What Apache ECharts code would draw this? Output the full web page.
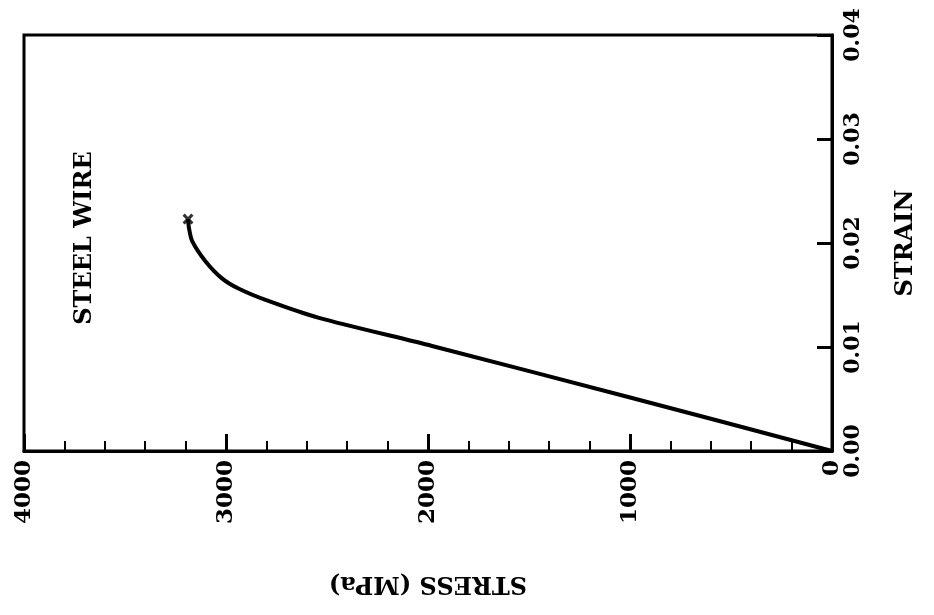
<!DOCTYPE html>
<html>
<head>
<meta charset="utf-8">
<title>Steel wire stress-strain</title>
<script src="https://cdn.jsdelivr.net/npm/echarts@6/dist/echarts.min.js"></script>
<style>
    html, body { margin: 0; padding: 0; background: #fff; }
    #chart { width: 934px; height: 615px; }
</style>
</head>
<body>
<div id="chart"></div>
<script>
    // stress (MPa) and strain
    const stress = [0, 990, 1980, 2540, 2787, 2936, 3020, 3104, 3168, 3183, 3188];
    const strain = [0, 0.0051, 0.0101, 0.0128, 0.0144, 0.0156, 0.0166, 0.0183, 0.0202, 0.0214, 0.0223];
    // fracture point
    const breakStress = [3188];
    const breakStrain = [0.0223];

    const stressTicks = [0, 1000, 2000, 3000, 4000];
    const strainTicks = [0, 0.01, 0.02, 0.03, 0.04];

    const font = "DejaVu Serif";
    const curve = stress.map((s, i) => [s, strain[i]]);
    const brk = breakStress.map((s, i) => [s, breakStrain[i]]);

    let chart = echarts.init(document.getElementById("chart"));
    chart.setOption({
        animation: false,
        grid: {
            left: 24, right: 102, top: 35, bottom: 164,
            show: true, borderColor: "#000", borderWidth: 3,
            outerBoundsMode: "none"
        },
        xAxis: {
            type: "value",
            position: "bottom",
            inverse: true,
            min: stressTicks[0],
            max: stressTicks[stressTicks.length - 1],
            interval: 1000,
            name: "STRESS (MPa)",
            nameLocation: "middle",
            nameRotate: 180,
            nameGap: 120,
            nameTextStyle: { fontFamily: font, fontWeight: "bold", fontSize: 24, color: "#000" },
            axisLine: { lineStyle: { color: "#000", width: 3 } },
            axisTick: { inside: true, length: 17, lineStyle: { color: "#000", width: 3 } },
            minorTick: { show: true, splitNumber: 5, length: 10, lineStyle: { color: "#000", width: 2 } },
            axisLabel: {
                rotate: 90, margin: 9, fontFamily: font, fontWeight: "bold", fontSize: 23, color: "#000",
                formatter: v => String(v)
            },
            splitLine: { show: false }
        },
        yAxis: {
            type: "value",
            position: "right",
            min: strainTicks[0],
            max: strainTicks[strainTicks.length - 1],
            interval: 0.01,
            name: "STRAIN",
            nameLocation: "middle",
            nameRotate: 90,
            nameGap: 62,
            nameTextStyle: { fontFamily: font, fontWeight: "bold", fontSize: 24, color: "#000" },
            axisLine: { lineStyle: { color: "#000", width: 3 } },
            axisTick: { inside: true, length: 15, lineStyle: { color: "#000", width: 3 } },
            axisLabel: {
                rotate: 90, margin: 10, fontFamily: font, fontWeight: "bold", fontSize: 22, color: "#000",
                formatter: v => v.toFixed(2)
            },
            splitLine: { show: false }
        },
        graphic: [{
            type: "text",
            x: 85, y: 238,
            rotation: Math.PI / 2,
            style: {
                text: "STEEL WIRE",
                font: "bold 24px 'DejaVu Serif'",
                fill: "#000",
                textAlign: "center",
                textVerticalAlign: "middle"
            }
        }],
        series: [{
            type: "line",
            data: curve,
            smooth: 0.25,
            showSymbol: false,
            lineStyle: { color: "#000", width: 4 }
        }, {
            type: "scatter",
            data: brk,
            symbol: "path://M0,2L2,0L5,3L8,0L10,2L7,5L10,8L8,10L5,7L2,10L0,8L3,5Z",
            symbolSize: 11,
            itemStyle: { color: "#000" }
        }]
    });
</script>
</body>
</html>
